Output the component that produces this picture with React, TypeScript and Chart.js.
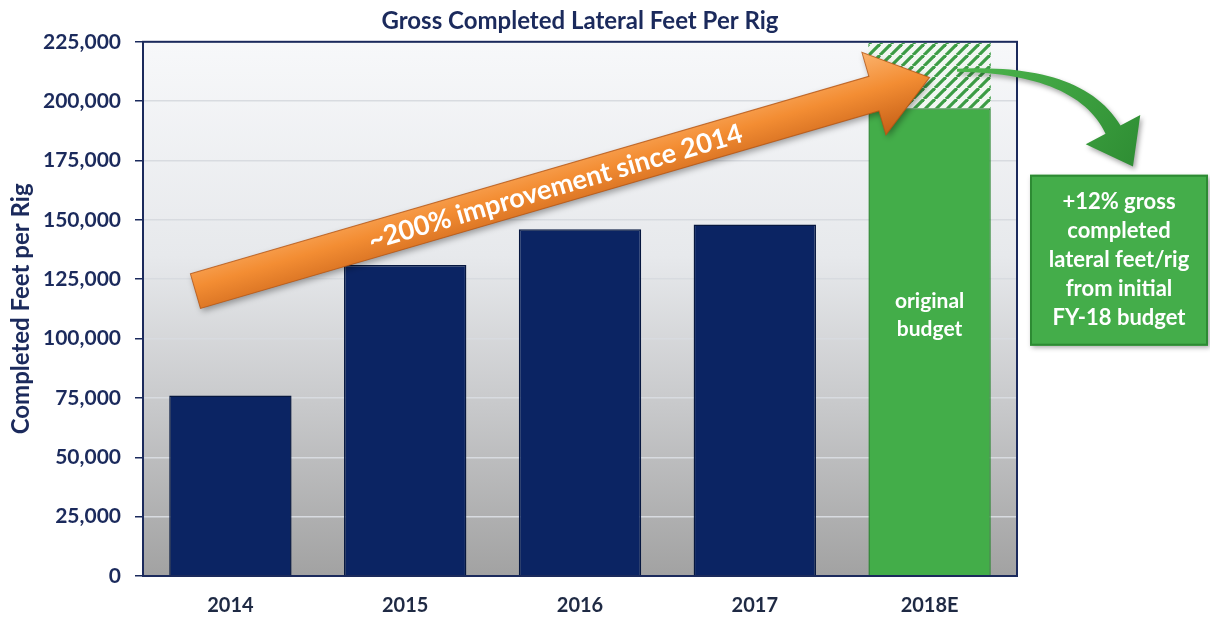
import React, { useEffect, useRef } from 'react';
import { Chart, registerables } from 'chart.js';

Chart.register(...registerables);

const categories = ['2014', '2015', '2016', '2017', '2018E'];
const baseValues = [76000, 131000, 146000, 148000, 197000];
const upliftValues = [0, 0, 0, 0, 27500];
const yMin = 0;
const yMax = 225000;
const yStep = 25000;

const titleText = 'Gross Completed Lateral Feet Per Rig';
const yTitleText = 'Completed Feet per Rig';
const arrowText = '~200% improvement since 2014';
const barNote = ['original', 'budget'];
const boxNote = ['+12% gross', 'completed', 'lateral feet/rig', 'from initial', 'FY-18 budget'];

const NAVY = '#1b2a5c';
const FONT = 'Lato, "Open Sans", sans-serif';

export default function App() {
  const ref = useRef<HTMLCanvasElement>(null);

  useEffect(() => {
    document.body.style.margin = '0';
    const canvas = ref.current!;
    const ctx = canvas.getContext('2d')!;

    const pc = document.createElement('canvas');
    pc.width = 11;
    pc.height = 11;
    const p = pc.getContext('2d')!;
    p.fillStyle = '#f2f7f2';
    p.fillRect(0, 0, 11, 11);
    p.strokeStyle = '#3c9c45';
    p.lineWidth = 3.2;
    for (const o of [-11, 0, 11]) {
      p.beginPath();
      p.moveTo(o, 11);
      p.lineTo(o + 11, 0);
      p.stroke();
    }
    const pattern = ctx.createPattern(pc, 'repeat')!;

    const decor = {
      id: 'decor',
      beforeDraw(chart: any) {
        const { ctx: c, chartArea: a } = chart;
        const g = c.createLinearGradient(0, a.top, 0, a.bottom);
        g.addColorStop(0, '#f7f8fa');
        g.addColorStop(0.4, '#e7e9ec');
        g.addColorStop(0.68, '#c8c9cb');
        g.addColorStop(1, '#a2a2a2');
        c.save();
        c.fillStyle = g;
        c.fillRect(a.left, a.top, a.right - a.left, a.bottom - a.top);
        c.restore();
      },
      afterDatasetsDraw(chart: any) {
        const { ctx: c, chartArea: a, scales } = chart;
        const xs = scales.x;
        const ys = scales.y;
        const catW = xs.getPixelForValue(1) - xs.getPixelForValue(0);

        // plot border
        c.save();
        c.strokeStyle = NAVY;
        c.lineWidth = 2;
        c.strokeRect(a.left, a.top, a.right - a.left, a.bottom - a.top);
        c.restore();

        // orange arrow
        const x0 = xs.getPixelForValue(0) - 0.2 * catW;
        const y0 = ys.getPixelForValue(120000);
        const x1 = xs.getPixelForValue(4);
        const y1 = ys.getPixelForValue(210000);
        const ang = Math.atan2(y1 - y0, x1 - x0);
        const len = Math.hypot(x1 - x0, y1 - y0);
        const sh = 18, hh = 43, hl = 58;
        c.save();
        c.translate(x0, y0);
        c.rotate(ang);
        c.beginPath();
        c.moveTo(0, -sh);
        c.lineTo(len - hl, -sh);
        c.lineTo(len - hl, -hh);
        c.lineTo(len, 0);
        c.lineTo(len - hl, hh);
        c.lineTo(len - hl, sh);
        c.lineTo(0, sh);
        c.closePath();
        const og = c.createLinearGradient(0, -hh, 0, hh);
        og.addColorStop(0, '#fbb36e');
        og.addColorStop(0.45, '#f38d33');
        og.addColorStop(1, '#c55f17');
        c.shadowColor = 'rgba(0,0,0,0.35)';
        c.shadowBlur = 6;
        c.shadowOffsetX = 2;
        c.shadowOffsetY = 3;
        c.fillStyle = og;
        c.fill();
        c.shadowColor = 'transparent';
        c.strokeStyle = 'rgba(180,85,20,0.8)';
        c.lineWidth = 1;
        c.stroke();
        c.fillStyle = '#ffffff';
        c.font = `bold 27px ${FONT}`;
        c.textAlign = 'center';
        c.textBaseline = 'middle';
        c.fillText(arrowText, len * 0.49, 1);
        c.restore();

        // green curved arrow
        const R = a.right;
        const P0 = { x: R - 60, y: ys.getPixelForValue(213000) };
        const P2 = { x: R + 96, y: ys.getPixelForValue(188000) };
        const dir = { x: 0.475, y: 0.88 };
        const P1 = { x: P2.x - 70 * dir.x, y: P2.y - 70 * dir.y };
        const left: any[] = [];
        const right: any[] = [];
        const N = 30;
        for (let i = 0; i <= N; i++) {
          const t = i / N;
          const px = (1 - t) * (1 - t) * P0.x + 2 * (1 - t) * t * P1.x + t * t * P2.x;
          const py = (1 - t) * (1 - t) * P0.y + 2 * (1 - t) * t * P1.y + t * t * P2.y;
          const tx = 2 * (1 - t) * (P1.x - P0.x) + 2 * t * (P2.x - P1.x);
          const ty = 2 * (1 - t) * (P1.y - P0.y) + 2 * t * (P2.y - P1.y);
          const tl = Math.hypot(tx, ty);
          const nx = -ty / tl, ny = tx / tl;
          const w = 1.5 + 7 * t;
          left.push({ x: px + nx * w, y: py + ny * w });
          right.push({ x: px - nx * w, y: py - ny * w });
        }
        const nrm = { x: dir.y, y: -dir.x };
        const tip = { x: P2.x + dir.x * 42, y: P2.y + dir.y * 42 };
        c.save();
        c.beginPath();
        c.moveTo(left[0].x, left[0].y);
        for (const q of left) c.lineTo(q.x, q.y);
        c.lineTo(P2.x - nrm.x * 31, P2.y - nrm.y * 31);
        c.lineTo(tip.x, tip.y);
        c.lineTo(P2.x + nrm.x * 31, P2.y + nrm.y * 31);
        for (let i = right.length - 1; i >= 0; i--) c.lineTo(right[i].x, right[i].y);
        c.closePath();
        const gg = c.createLinearGradient(P0.x, P0.y - 20, tip.x, tip.y);
        gg.addColorStop(0, '#4fb84f');
        gg.addColorStop(1, '#2f8e34');
        c.shadowColor = 'rgba(0,0,0,0.35)';
        c.shadowBlur = 5;
        c.shadowOffsetX = 2;
        c.shadowOffsetY = 3;
        c.fillStyle = gg;
        c.fill();
        c.restore();

        // green note box
        const bx = R + 13, bw = 178;
        const by = ys.getPixelForValue(169000);
        const bb = ys.getPixelForValue(97000);
        c.save();
        c.shadowColor = 'rgba(0,0,0,0.35)';
        c.shadowBlur = 5;
        c.shadowOffsetX = 2;
        c.shadowOffsetY = 2;
        c.fillStyle = '#44ad4a';
        c.fillRect(bx, by, bw, bb - by);
        c.shadowColor = 'transparent';
        c.strokeStyle = '#2d8a33';
        c.lineWidth = 2;
        c.strokeRect(bx + 1, by + 1, bw - 2, bb - by - 2);
        c.fillStyle = '#ffffff';
        c.font = `bold 22px ${FONT}`;
        c.textAlign = 'center';
        c.textBaseline = 'middle';
        const cy = (by + bb) / 2;
        boxNote.forEach((s, i) => c.fillText(s, bx + bw / 2, cy + (i - 2) * 29));
        c.restore();

        // text inside green bar
        c.save();
        c.fillStyle = '#ffffff';
        c.font = `bold 21px ${FONT}`;
        c.textAlign = 'center';
        c.textBaseline = 'middle';
        const gx = xs.getPixelForValue(4);
        const gy = ys.getPixelForValue(110000);
        c.fillText(barNote[0], gx, gy - 14);
        c.fillText(barNote[1], gx, gy + 14);
        c.restore();
      },
    };

    const chart = new Chart(ctx, {
      type: 'bar',
      data: {
        labels: categories,
        datasets: [
          {
            data: baseValues,
            backgroundColor: ['#0b2463', '#0b2463', '#0b2463', '#0b2463', '#43ad49'],
            borderColor: ['#06173f', '#06173f', '#06173f', '#06173f', '#2c8632'],
            borderWidth: 1.5,
            barPercentage: 0.7,
            categoryPercentage: 1,
          },
          {
            data: upliftValues,
            backgroundColor: pattern as any,
            borderWidth: 0,
            barPercentage: 0.7,
            categoryPercentage: 1,
          },
        ],
      },
      options: {
        responsive: false,
        animation: false,
        devicePixelRatio: 1,
        layout: { padding: { left: 0, right: 193, top: 0, bottom: 0 } },
        plugins: {
          legend: { display: false },
          tooltip: { enabled: false },
          title: {
            display: true,
            text: titleText,
            color: NAVY,
            fullSize: false,
            font: { family: FONT, size: 24, weight: 'bold' },
            padding: { top: 7, bottom: 6 },
          },
        },
        scales: {
          x: {
            stacked: true,
            grid: { display: false, drawTicks: false },
            border: { display: true, color: NAVY, width: 2 },
            ticks: { color: '#1f2a44', padding: 18, font: { family: FONT, size: 20, weight: 'bold' } },
            afterFit: (s: any) => { s.height = 46; },
          },
          y: {
            stacked: true,
            min: yMin,
            max: yMax,
            ticks: {
              stepSize: yStep,
              color: NAVY,
              padding: 14,
              font: { family: FONT, size: 21, weight: 'bold' },
              callback: (v: any) => Number(v).toLocaleString('en-US'),
            },
            grid: { color: '#d8dbe0', lineWidth: 1.5, tickColor: NAVY, tickLength: 8, drawTicks: true },
            border: { display: true, color: NAVY, width: 2 },
            title: {
              display: true,
              text: yTitleText,
              color: NAVY,
              font: { family: FONT, size: 24, weight: 'bold' },
              padding: { top: 7, bottom: 4 },
            },
            afterFit: (s: any) => { s.width = 143; },
          },
        },
      },
      plugins: [decor],
    });

    return () => chart.destroy();
  }, []);

  return (
    <div style={{ width: 1210, height: 622 }}>
      <canvas ref={ref} width={1210} height={622} />
    </div>
  );
}
